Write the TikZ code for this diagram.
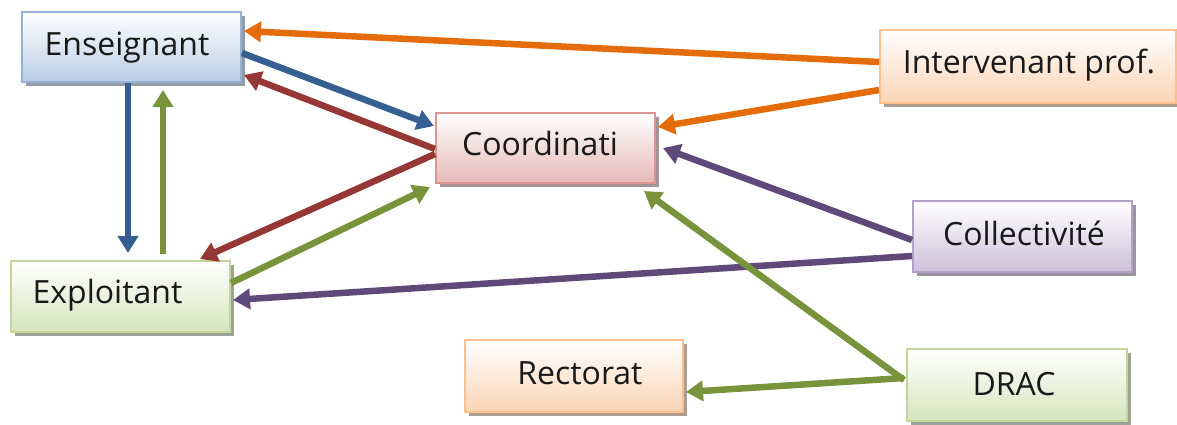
\documentclass[tikz,border=0pt]{standalone}
\usepackage{fontspec}
\setmainfont{Open Sans}
\usetikzlibrary{arrows.meta,shadows,calc}
\definecolor{arOrange}{HTML}{E46C0A}
\definecolor{arBlue}{HTML}{376092}
\definecolor{arRed}{HTML}{953735}
\definecolor{arGreen}{HTML}{77933C}
\definecolor{arPurple}{HTML}{5F497A}
\definecolor{bdBlue}{HTML}{95B3D7}\definecolor{fBlue}{HTML}{B9CDE5}
\definecolor{bdPink}{HTML}{D99694}\definecolor{fPink}{HTML}{E6B9B8}
\definecolor{bdGreen}{HTML}{C3D69B}\definecolor{fGreen}{HTML}{D7E4BD}
\definecolor{bdOrange}{HTML}{FAC090}\definecolor{fOrange}{HTML}{FBD4B4}
\definecolor{bdPurple}{HTML}{B3A2C7}\definecolor{fPurple}{HTML}{CCC1DA}
\tikzset{
  boxbase/.style 2 args={draw=#1, line width=2pt, top color=white, bottom color=#2,
    inner sep=0pt, minimum width=219pt, minimum height=70pt,
    drop shadow={shadow xshift=4pt, shadow yshift=-4pt, fill=#2!35!gray, opacity=1}},
  bluebox/.style={boxbase={bdBlue}{fBlue}},
  pinkbox/.style={boxbase={bdPink}{fPink}},
  greenbox/.style={boxbase={bdGreen}{fGreen}},
  orangebox/.style={boxbase={bdOrange}{fOrange}},
  purplebox/.style={boxbase={bdPurple}{fPurple}},
  lbl/.style={anchor=base, inner sep=0pt, text=black!90, font=\fontsize{32}{38}\selectfont},
  conn/.style={line width=6.5pt, -{Triangle[length=17pt,width=20pt]}},
}
\begin{document}
\begin{tikzpicture}[x=1pt,y=-1pt]
\useasboundingbox (0,0) rectangle (1177,424);
% boxes
\node[bluebox] (ens) at (131.5,47) {};
\node[pinkbox] (coord) at (545.5,148) {};
\node[greenbox, minimum height=71pt] (expl) at (120.5,296.5) {};
\node[orangebox, minimum width=296pt, minimum height=73pt] (interv) at (1028,66.5) {};
\node[purplebox, minimum height=71pt] (coll) at (1022.5,236.5) {};
\node[orangebox, minimum width=218pt, minimum height=72pt] (rect) at (574,376) {};
\node[greenbox, minimum width=220pt, minimum height=72pt] (drac) at (1017,385) {};
% labels
\node[lbl] (ens-t) at (127,55) {Enseignant};
\node[lbl] (coord-t) at (540,155) {Coordinati};
\node[lbl] (expl-t) at (107.5,303) {Exploitant};
\node[lbl] (interv-t) at (1029,73) {Intervenant prof.};
\node[lbl] (coll-t) at (1024,245) {Collectivité};
\node[lbl] (rect-t) at (580,384) {Rectorat};
\node[lbl] (drac-t) at (1014,395) {DRAC};
% connectors
\draw[conn, arOrange] ($(interv.west)+(0,-4.5)$) -- ($(ens.east)+(2,-16)$);
\draw[conn, arOrange] ($(interv.west)+(0,23.5)$) -- ($(coord.east)+(2,-21)$);
\draw[conn, arBlue] ($(ens.east)+(0,6)$) -- ($(coord.west)+(-1,-22)$);
\draw[conn, arRed] ($(coord.west)+(0,1)$) -- ($(ens.east)+(2,28)$);
\draw[conn, arBlue] ($(ens.south)+(-3.5,0)$) -- ($(expl.north)+(7.5,-7)$);
\draw[conn, arGreen] ($(expl.north)+(42.5,-6)$) -- ($(ens.south)+(31.5,7)$);
\draw[conn, arRed] ($(coord.west)+(0,6)$) -- ($(expl.north)+(79.5,-1)$);
\draw[conn, arGreen] ($(expl.east)+(0,-13.5)$) -- ($(coord.south west)+(-5,3)$);
\draw[conn, arPurple] ($(coll.west)+(0,3.5)$) -- ($(coord.east)+(7,0)$);
\draw[conn, arPurple] ($(coll.west)+(0,19.5)$) -- ($(expl.east)+(2,3.5)$);
\draw[conn, arGreen] ($(drac.west)+(-2,-5)$) -- ($(coord.south east)+(-12,7)$);
\draw[conn, arGreen] ($(drac.west)+(-2,-7)$) -- ($(rect.east)+(2,16)$);
\end{tikzpicture}
\end{document}
